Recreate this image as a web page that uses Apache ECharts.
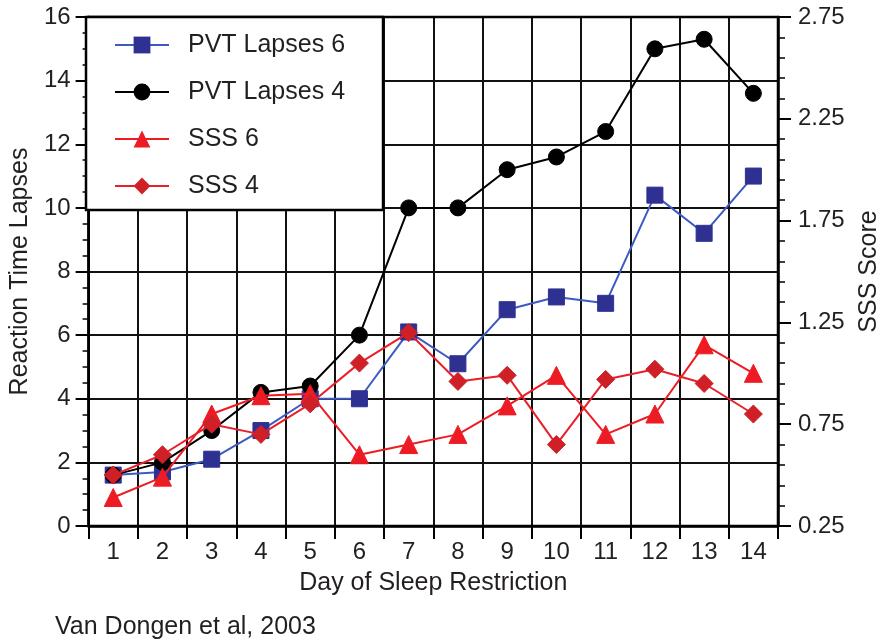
<!DOCTYPE html>
<html>
<head>
<meta charset="utf-8">
<script src="https://cdn.jsdelivr.net/npm/echarts@6/dist/echarts.min.js"></script>
<style>
  html, body { margin: 0; padding: 0; background: #fff; }
  #chart { width: 890px; height: 643px; }
</style>
</head>
<body>
<div id="chart"></div>
<script>
// days on the x axis
const days = ['1', '2', '3', '4', '5', '6', '7', '8', '9', '10', '11', '12', '13', '14'];

// left axis: reaction time lapses
const pvtLapses6 = [1.6, 1.7, 2.1, 3.0, 4.0, 4.0, 6.1, 5.1, 6.8, 7.2, 7.0, 10.4, 9.2, 11.0];
const pvtLapses4 = [1.6, 2.0, 3.0, 4.2, 4.4, 6.0, 10.0, 10.0, 11.2, 11.6, 12.4, 15.0, 15.3, 13.6];

// right axis: SSS score
const sss6 = [0.39, 0.49, 0.80, 0.89, 0.90, 0.60, 0.65, 0.70, 0.84, 0.99, 0.70, 0.80, 1.14, 1.00];
const sss4 = [0.50, 0.60, 0.75, 0.70, 0.85, 1.05, 1.20, 0.96, 0.99, 0.65, 0.97, 1.02, 0.95, 0.80];

// right axis tick labels
const sssMajor = [0.25, 0.75, 1.25, 1.75, 2.25, 2.75];
const sssMinor = [];
for (let i = 0; i <= 25; i++) sssMinor.push(Math.round((0.25 + i * 0.1) * 100) / 100);

const FONT = 'Liberation Sans, Arial, sans-serif';
const TXT = '#231f20';

const chart = echarts.init(document.getElementById('chart'));

const option = {
  backgroundColor: '#fff',
  animation: false,
  textStyle: { fontFamily: FONT, color: TXT },
  grid: {
    left: 86, right: 107, top: 17, bottom: 117,
    show: true, borderColor: '#000', borderWidth: 2.5, z: 1
  },
  legend: {
    orient: 'vertical',
    left: 86, top: 17,
    padding: [13, 38, 9, 28],
    backgroundColor: '#fff',
    borderColor: '#000',
    borderWidth: 2.5,
    itemWidth: 54,
    itemHeight: 21,
    itemGap: 17,
    textStyle: { fontFamily: FONT, fontSize: 25, color: TXT, lineHeight: 30, padding: [0, 0, 0, 14] },
    data: ['PVT Lapses 6', 'PVT Lapses 4', 'SSS 6', 'SSS 4']
  },
  xAxis: {
    type: 'category',
    data: days,
    boundaryGap: true,
    name: 'Day of Sleep Restriction',
    nameLocation: 'middle',
    nameGap: 45,
    nameTextStyle: { fontSize: 25, color: TXT, fontFamily: FONT },
    axisLine: { lineStyle: { color: '#000', width: 2.5 } },
    axisTick: { show: true, length: 13, lineStyle: { color: '#000', width: 2 } },
    axisLabel: { fontSize: 24, color: TXT, margin: 14, fontFamily: FONT },
    splitLine: { show: true, lineStyle: { color: '#111', width: 2 } }
  },
  yAxis: [
    {
      type: 'value',
      position: 'left',
      min: 0, max: 16, interval: 2,
      name: 'Reaction Time Lapses',
      nameLocation: 'middle',
      nameGap: 54,
      nameTextStyle: { fontSize: 25, color: TXT, fontFamily: FONT },
      axisLine: { show: true, lineStyle: { color: '#000', width: 2.5 } },
      axisTick: { show: true, length: 13, lineStyle: { color: '#000', width: 2 } },
      minorTick: { show: true, splitNumber: 4, length: 6, lineStyle: { color: '#000', width: 1.5 } },
      axisLabel: { fontSize: 24, color: TXT, margin: 18, fontFamily: FONT },
      splitLine: { show: true, lineStyle: { color: '#111', width: 2 } }
    },
    {
      type: 'value',
      position: 'right',
      min: 0.25, max: 2.75,
      name: 'SSS Score',
      nameLocation: 'middle',
      nameGap: 79,
      nameRotate: 90,
      nameTextStyle: { fontSize: 25, color: TXT, fontFamily: FONT },
      axisLine: { show: true, lineStyle: { color: '#000', width: 2.5 } },
      axisTick: { show: true, length: 7, customValues: sssMinor, lineStyle: { color: '#000', width: 1.5 } },
      axisLabel: {
        fontSize: 24, color: TXT, margin: 20, fontFamily: FONT,
        customValues: sssMajor,
        formatter: v => v.toFixed(2)
      },
      splitLine: { show: false }
    },
    {
      type: 'value',
      position: 'right',
      min: 0.25, max: 2.75,
      axisLine: { show: false },
      axisTick: { show: true, length: 13, customValues: sssMajor, lineStyle: { color: '#000', width: 2 } },
      axisLabel: { show: false },
      splitLine: { show: false }
    }
  ],
  series: [
    {
      name: 'PVT Lapses 6',
      type: 'line',
      yAxisIndex: 0,
      data: pvtLapses6,
      symbol: 'rect',
      symbolSize: 16,
      lineStyle: { color: '#3d5ac0', width: 2 },
      itemStyle: { color: '#2e3192', borderColor: '#2e3192' },
      z: 3
    },
    {
      name: 'PVT Lapses 4',
      type: 'line',
      yAxisIndex: 0,
      data: pvtLapses4,
      symbol: 'circle',
      symbolSize: 16,
      lineStyle: { color: '#000', width: 2 },
      itemStyle: { color: '#000', borderColor: '#000' },
      z: 4
    },
    {
      name: 'SSS 6',
      type: 'line',
      yAxisIndex: 1,
      data: sss6,
      symbol: 'triangle',
      symbolSize: 18,
      lineStyle: { color: '#ed1c24', width: 2 },
      itemStyle: { color: '#ed1c24', borderColor: '#ed1c24' },
      z: 5
    },
    {
      name: 'SSS 4',
      type: 'line',
      yAxisIndex: 1,
      data: sss4,
      symbol: 'diamond',
      symbolSize: 18,
      lineStyle: { color: '#e8202a', width: 2 },
      itemStyle: { color: '#cf2027', borderColor: '#cf2027' },
      z: 6
    }
  ],
  graphic: [
    {
      type: 'text',
      left: 55,
      top: 615,
      style: { text: 'Van Dongen et al, 2003', font: '25px ' + FONT, fill: TXT }
    }
  ]
};

chart.setOption(option);
</script>
</body>
</html>
